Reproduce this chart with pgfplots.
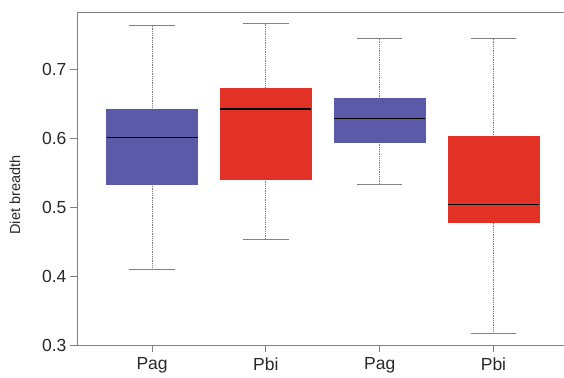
\documentclass[border=0pt]{standalone}
\usepackage{fontspec}
\setmainfont{Liberation Sans}
\usepackage{pgfplots}
\pgfplotsset{compat=1.18}
\usepgfplotslibrary{statistics}
\definecolor{boxblue}{RGB}{90,90,168}
\definecolor{boxred}{RGB}{226,50,38}
\definecolor{axgray}{RGB}{128,128,128}
\definecolor{txt}{RGB}{40,40,40}
\begin{document}
\begin{tikzpicture}
\begin{axis}[
  scale only axis,
  width=491pt, height=333pt,
  xmin=0.34, xmax=4.655,
  ymin=0.3, ymax=0.784,
  axis x line=box, axis y line=left,
  axis line style={axgray, line width=0.9pt},
  x axis line style={-}, y axis line style={-},
  xtick={1,2,3,4}, xticklabels={Pag,Pbi,Pag,Pbi},
  ytick={0.3,0.4,0.5,0.6,0.7},
  xtick pos=bottom, ytick pos=left,
  tick align=outside,
  major tick length=7pt,
  tick style={axgray, line width=0.8pt},
  yticklabel style={/pgf/number format/fixed, /pgf/number format/precision=1, /pgf/number format/fixed zerofill, /pgf/number format/assume math mode=true},
  ticklabel style={font=\fontsize{17.5}{20}\selectfont, text=txt},
  xticklabel style={yshift=-2pt},
  ylabel={Diet breadth},
  every axis y label/.style={at={(rel axis cs:0,0.45)}, xshift=-62pt, rotate=90, anchor=center, font=\fontsize{14.5}{17}\selectfont, text=txt},
  boxplot/draw direction=y,
  boxplot/box extend=0.8,
  boxplot/every median/.style={black, line width=1.1pt},
  boxplot/draw/lower whisker/.code={
    \draw[axgray, densely dotted, line width=0.8pt] (boxplot box cs:\pgfplotsboxplotvalue{lower whisker},0.5) -- (boxplot box cs:\pgfplotsboxplotvalue{lower quartile},0.5);
    \draw[axgray, line width=0.9pt] (boxplot box cs:\pgfplotsboxplotvalue{lower whisker},0.25) -- (boxplot box cs:\pgfplotsboxplotvalue{lower whisker},0.75);
  },
  boxplot/draw/upper whisker/.code={
    \draw[axgray, densely dotted, line width=0.8pt] (boxplot box cs:\pgfplotsboxplotvalue{upper whisker},0.5) -- (boxplot box cs:\pgfplotsboxplotvalue{upper quartile},0.5);
    \draw[axgray, line width=0.9pt] (boxplot box cs:\pgfplotsboxplotvalue{upper whisker},0.25) -- (boxplot box cs:\pgfplotsboxplotvalue{upper whisker},0.75);
  },
]
\coordinate (O) at (rel axis cs:0,0);
\addplot[fill=boxblue, draw=boxblue, boxplot prepared={draw position=1,
  lower whisker=0.410, lower quartile=0.534, median=0.602, upper quartile=0.642, upper whisker=0.764}] coordinates {};
\addplot[fill=boxred, draw=boxred, boxplot prepared={draw position=2,
  lower whisker=0.454, lower quartile=0.541, median=0.643, upper quartile=0.673, upper whisker=0.767}] coordinates {};
\addplot[fill=boxblue, draw=boxblue, boxplot prepared={draw position=3,
  lower whisker=0.534, lower quartile=0.595, median=0.629, upper quartile=0.659, upper whisker=0.745}] coordinates {};
\addplot[fill=boxred, draw=boxred, boxplot prepared={draw position=4,
  lower whisker=0.317, lower quartile=0.478, median=0.504, upper quartile=0.604, upper whisker=0.745}] coordinates {};
\end{axis}
\pgfresetboundingbox
\path (O) ++(-77pt,-32pt) rectangle ++(564pt,377pt);
\end{tikzpicture}
\end{document}
